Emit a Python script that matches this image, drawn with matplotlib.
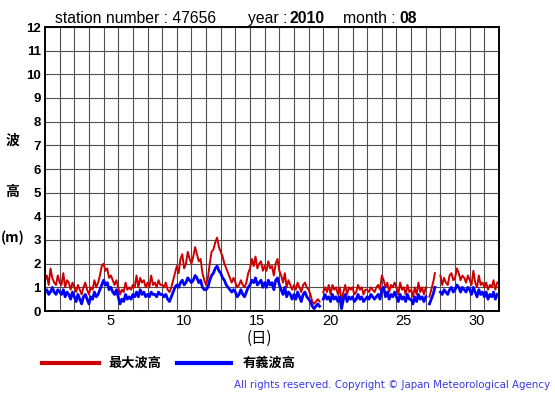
import numpy as np
import matplotlib
matplotlib.use('Agg')
import matplotlib.pyplot as plt

plt.rcParams['font.family'] = ['Liberation Sans', 'DejaVu Sans']
JP = ['Noto Sans CJK JP', 'DejaVu Sans']

# 3-hourly readings, one row per day (August 2010, station 47656)
sig_wave = [
    [0.8, 0.9, 0.7, 0.8, 1.0, 0.8, 0.7, 0.9],
    [0.8, 0.7, 0.9, 0.6, 0.8, 0.7, 0.5, 0.8],
    [0.6, 0.4, 0.7, 0.5, 0.3, 0.6, 0.7, 0.5],
    [0.3, 0.6, 0.5, 0.8, 0.6, 0.7, 0.9, 1.1],
    [1.3, 1.1, 1.2, 0.9, 1.0, 0.8, 0.7, 0.9],
    [0.6, 0.3, 0.5, 0.4, 0.7, 0.5, 0.6, 0.5],
    [0.7, 0.6, 0.8, 0.6, 0.9, 0.7, 0.8, 0.6],
    [0.7, 0.6, 0.8, 0.7, 0.7, 0.6, 0.8, 0.7],
    [0.7, 0.6, 0.7, 0.5, 0.4, 0.6, 0.8, 1.0],
    [1.1, 1.0, 1.2, 1.3, 1.1, 1.2, 1.4, 1.3],
    [1.2, 1.3, 1.5, 1.4, 1.2, 1.3, 1.0, 0.9],
    [0.9, 1.0, 1.3, 1.5, 1.6, 1.8, 1.9, 1.7],
    [1.6, 1.4, 1.3, 1.1, 1.0, 0.9, 0.8, 0.9],
    [0.8, 0.6, 0.7, 0.9, 0.7, 0.6, 0.8, 1.0],
    [1.1, 1.3, 1.2, 1.4, 1.1, 1.2, 1.3, 1.0],
    [1.2, 1.0, 1.3, 1.1, 1.2, 0.9, 1.3, 1.4],
    [1.1, 0.9, 0.7, 1.0, 0.6, 0.8, 0.7, 0.5],
    [0.7, 0.5, 0.8, 0.6, 0.4, 0.7, 0.8, 0.6],
    [0.5, 0.4, 0.2, 0.1, 0.2, 0.3, 0.2, np.nan],
    [0.5, 0.7, 0.5, 0.6, 0.4, 0.7, 0.5, 0.6],
    [0.4, 0.6, 0.1, 0.5, 0.7, 0.4, 0.6, 0.5],
    [0.6, 0.4, 0.5, 0.7, 0.5, 0.6, 0.4, 0.5],
    [0.6, 0.5, 0.7, 0.6, 0.5, 0.6, 0.7, 0.5],
    [0.9, 1.0, 0.6, 0.8, 0.5, 0.7, 0.6, 0.8],
    [0.6, 0.4, 0.7, 0.5, 0.6, 0.4, 0.7, 0.5],
    [0.5, 0.3, 0.6, 0.4, 0.7, 0.5, 0.6, 0.4],
    [0.6, np.nan, 0.3, 0.5, 0.7, 1.0, np.nan, np.nan],
    [0.8, 0.7, 0.9, 0.8, 0.7, 0.9, 1.0, 0.8],
    [0.9, 1.1, 1.0, 0.8, 1.0, 0.9, 0.8, 1.0],
    [0.9, 0.7, 1.0, 0.8, 0.6, 0.9, 0.7, 0.8],
    [0.6, 0.8, 0.5, 0.7, 0.6, 0.8, 0.5, 0.7],
]
max_wave = [
    [1.3, 1.5, 1.1, 1.8, 1.4, 1.2, 1.1, 1.5],
    [1.2, 1.1, 1.6, 1.0, 1.3, 1.2, 0.9, 1.2],
    [1.0, 0.8, 1.1, 0.9, 0.7, 1.0, 1.2, 0.9],
    [0.7, 1.0, 0.9, 1.3, 1.0, 1.2, 1.5, 1.9],
    [2.0, 1.7, 1.8, 1.4, 1.5, 1.3, 1.1, 1.3],
    [1.0, 0.7, 0.9, 0.8, 1.2, 0.9, 1.0, 0.9],
    [1.1, 1.0, 1.5, 1.0, 1.4, 1.2, 1.3, 1.0],
    [1.2, 1.0, 1.5, 1.1, 1.2, 1.0, 1.3, 1.1],
    [1.1, 1.0, 1.2, 0.9, 0.8, 1.0, 1.3, 1.6],
    [1.9, 1.6, 2.2, 2.4, 1.8, 2.0, 2.5, 2.2],
    [2.0, 2.3, 2.7, 2.4, 2.1, 2.2, 1.6, 1.3],
    [1.1, 1.4, 2.0, 2.5, 2.6, 2.9, 3.1, 2.7],
    [2.5, 2.3, 2.0, 1.8, 1.6, 1.4, 1.2, 1.4],
    [1.2, 1.0, 1.1, 1.3, 1.1, 1.0, 1.2, 1.6],
    [1.8, 2.2, 1.9, 2.3, 1.8, 2.0, 2.1, 1.7],
    [1.9, 1.7, 2.1, 1.8, 1.9, 1.5, 2.0, 2.2],
    [1.7, 1.5, 1.2, 1.6, 1.0, 1.3, 1.1, 0.9],
    [1.1, 0.9, 1.2, 1.0, 0.8, 1.1, 1.2, 1.0],
    [0.9, 0.7, 0.4, 0.3, 0.4, 0.5, 0.4, np.nan],
    [0.8, 1.0, 0.8, 1.1, 0.7, 1.1, 0.9, 1.0],
    [0.7, 1.0, 0.4, 0.8, 1.1, 0.7, 1.0, 0.9],
    [1.0, 0.7, 0.8, 1.1, 0.9, 1.0, 0.7, 0.9],
    [0.9, 0.8, 1.0, 0.9, 0.8, 1.0, 1.1, 0.9],
    [1.5, 1.3, 1.0, 1.2, 0.8, 1.1, 1.0, 1.2],
    [1.0, 0.7, 1.2, 0.9, 1.0, 0.7, 1.1, 0.8],
    [0.9, 0.6, 1.0, 0.7, 1.2, 0.8, 1.0, 0.7],
    [1.0, np.nan, 0.6, 0.9, 1.2, 1.6, np.nan, np.nan],
    [1.5, 1.1, 1.4, 1.2, 1.1, 1.5, 1.6, 1.3],
    [1.4, 1.8, 1.6, 1.3, 1.5, 1.4, 1.2, 1.5],
    [1.3, 1.1, 1.7, 1.2, 1.0, 1.5, 1.1, 1.2],
    [1.0, 1.2, 0.9, 1.1, 1.0, 1.3, 0.9, 1.2],
]
day_ticks = [5, 10, 15, 20, 25, 30]
n_days = 31

hs = np.array(sig_wave, dtype=float).ravel()
hmax = np.array(max_wave, dtype=float).ravel()
t = np.arange(hs.size) / 8.0

fig = plt.figure(figsize=(5.55, 3.95), dpi=100)
ax = fig.add_axes([45 / 555, 84 / 395, 454 / 555, 284 / 395])

ax.plot(t, hmax, color='#cc0000', lw=1.4)
ax.plot(t, hs, color='#0000ff', lw=2.0)

ax.set_xlim(0, n_days)
ax.set_ylim(0, 12)
ax.set_xticks(np.arange(1, n_days), minor=True)
ax.set_xticks([d - 0.5 for d in day_ticks])
ax.set_xticklabels([str(d) for d in day_ticks], fontsize=10.5)
ax.set_yticks(range(0, 13))
ax.set_yticklabels([str(v) for v in range(0, 13)], fontsize=9.5, fontweight='bold')
ax.tick_params(which='both', length=0)
ax.tick_params(axis='x', pad=2)
ax.tick_params(axis='y', pad=3)
ax.grid(which='minor', axis='x', color='#505050', lw=0.8)
ax.grid(which='major', axis='y', color='#505050', lw=0.8)
for s in ax.spines.values():
    s.set_linewidth(1.4)

# header line
yb = 1 - 23 / 395
fig.text(55 / 555, yb, 'station number : 47656', fontsize=11.3, va='baseline')
fig.text(248 / 555, yb, 'year :', fontsize=11.3, va='baseline')
fig.text(290 / 555, yb, '2010', fontsize=11.3, va='baseline', fontweight='bold')
fig.text(343 / 555, yb, 'month :', fontsize=11.3, va='baseline')
fig.text(399 / 555, yb, '08', fontsize=11.3, va='baseline', fontweight='bold')

fig.text(12 / 555, 1 - 141 / 395, '波', family=JP, fontsize=10, fontweight='bold', ha='center', va='center')
fig.text(12 / 555, 1 - 192 / 395, '高', family=JP, fontsize=10, fontweight='bold', ha='center', va='center')
fig.text(1 / 555, 1 - 238 / 395, '(m)', family=JP, fontsize=10, fontweight='bold', ha='left', va='center')
fig.text(259 / 555, 1 - 338 / 395, '(日)', family=JP, fontsize=11, ha='center', va='center')

fig.add_artist(plt.Line2D([42 / 555, 99 / 555], [1 - 363 / 395] * 2, color='#cc0000', lw=3))
fig.text(108 / 555, 1 - 363 / 395, '最大波高', family=JP, fontsize=9.5, fontweight='bold', va='center')
fig.add_artist(plt.Line2D([177 / 555, 231 / 555], [1 - 363 / 395] * 2, color='#0000ff', lw=3))
fig.text(243 / 555, 1 - 363 / 395, '有義波高', family=JP, fontsize=9.5, fontweight='bold', va='center')

fig.text(550 / 555, 1 - 385 / 395, 'All rights reserved. Copyright \u00a9 Japan Meteorological Agency',
         family=['DejaVu Sans'], fontsize=7.4, color='#3a3ae0', ha='right', va='center')

fig.savefig('out.png', dpi=100)
